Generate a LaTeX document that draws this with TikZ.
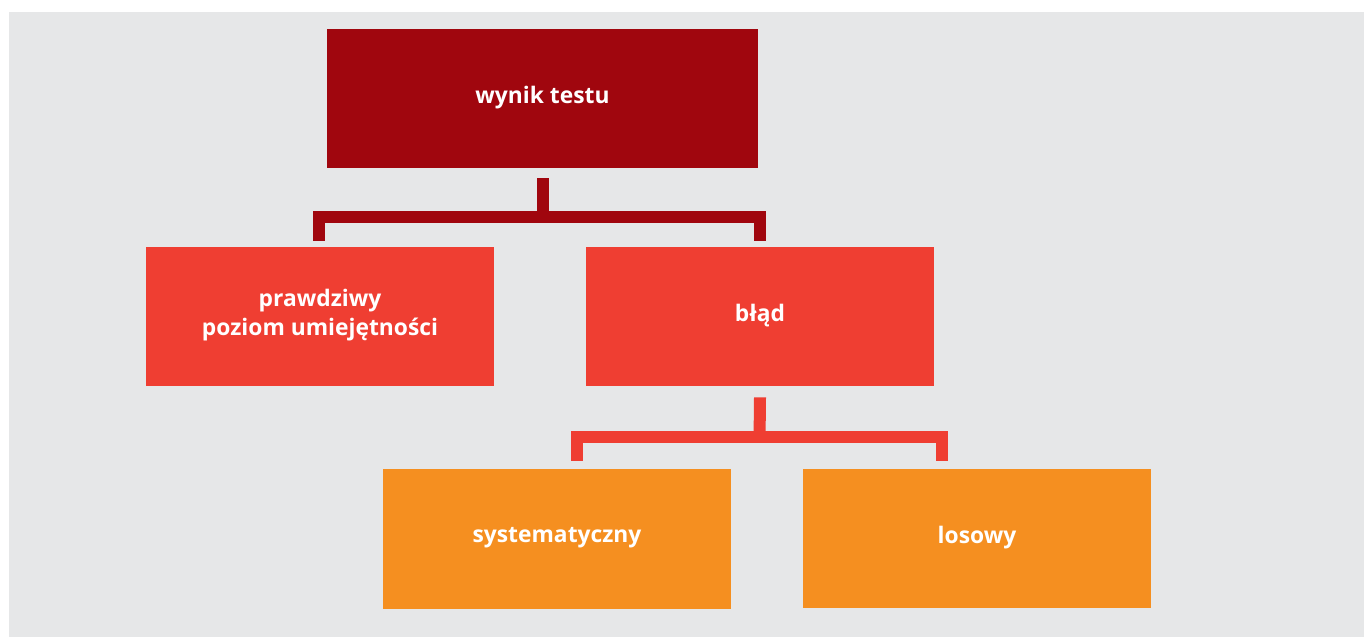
\documentclass[tikz,border=0pt]{standalone}
\usepackage{fontspec}
\setmainfont{Open Sans}
\usetikzlibrary{calc}
\definecolor{bgray}{RGB}{230, 231, 232}
\definecolor{wine}{RGB}{160, 6, 14}
\definecolor{brick}{RGB}{239, 62, 50}
\definecolor{amber}{RGB}{245, 143, 32}
\tikzstyle{box}=[rectangle,inner sep=0pt,minimum width=174pt,minimum height=69.5pt,text=white,align=center,font=\bfseries\fontsize{11.4}{14.5}\selectfont]
\tikzstyle{link}=[line width=6pt,miter limit=10]
\tikzstyle{lift}=[text depth=4pt]

\begin{document}
\begin{tikzpicture}[x=0.5pt,y=-0.5pt]

      \useasboundingbox (0,0) rectangle (1364,637);
      \fill[bgray] (9,12) rectangle (1364,637);

      \node (wynik) at (542.5,98.5) [box,lift,fill=wine,minimum width=215.5pt] {wynik testu};

      \node (prawdziwy) at (320,316.5) [box,lift,fill=brick] {prawdziwy\\poziom umiejętności};
      \node (blad) at (760,316.5) [box,lift,fill=brick] {błąd};

      \node (syst) at (557,539) [box,lift,fill=amber,minimum height=70pt] {systematyczny};
      \node (losowy) at (977,538.5) [box,lift,fill=amber] {losowy};

      % first bracket
      \coordinate (bar1) at (542.5,216.5);
      \draw[link,wine] ($(wynik.south)+(0,10)$) -- ($(bar1)+(0,6)$);
      \draw[link,wine] ($(prawdziwy.north)+(-1,-6)$) |- (bar1) -| ($(blad.north)+(0,-6)$);

      % second bracket
      \coordinate (bar2) at (759.5,436.5);
      \draw[link,brick] ($(blad.south)+(0,11)$) -- ($(bar2)+(0,5.5)$);
      \draw[link,brick] ($(syst.north)+(20,-8)$) |- (bar2) -| ($(losowy.north)+(-35,-8)$);

\end{tikzpicture}
\end{document}
